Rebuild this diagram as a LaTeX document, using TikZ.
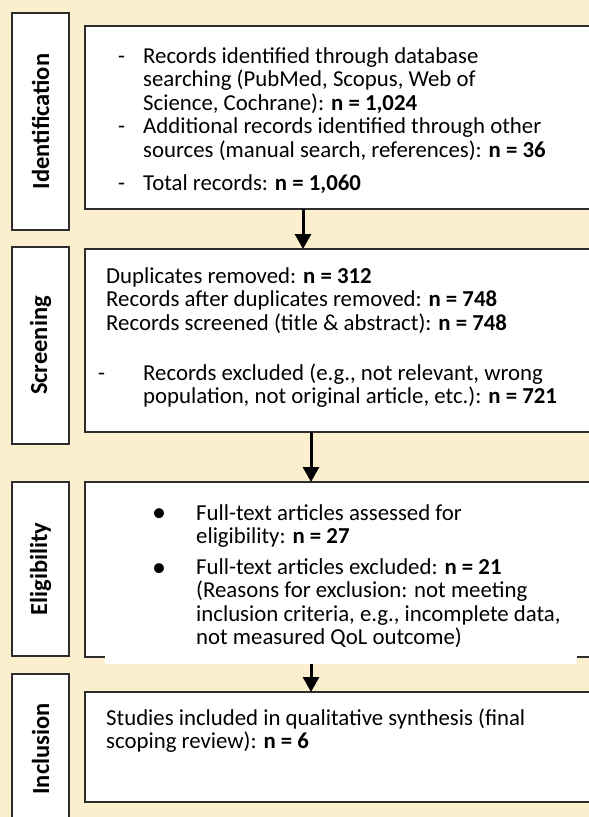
\documentclass[tikz,border=0pt]{standalone}
\usepackage{fontspec}
\setmainfont{Carlito}
\usetikzlibrary{arrows.meta}
\definecolor{bg}{RGB}{252,239,206}
\definecolor{ln}{RGB}{45,45,45}
\begin{document}
\begin{tikzpicture}[x=1pt,y=-1pt,
  frame/.style={draw=ln, line width=1.6pt, fill=white, inner sep=0pt, outer sep=0pt, rectangle, anchor=north west},
  txt/.style={inner sep=0pt, anchor=base west, font=\fontsize{22.8}{23.5}\selectfont, text=black},
  bul/.style={inner sep=0pt, anchor=base, font=\fontsize{28}{28}\selectfont, text=black},
  lab/.style={inner sep=0pt, rotate=90, font=\fontsize{24.5}{26}\selectfont\bfseries, text=black},
  flow/.style={draw=black, line width=3pt, -{Triangle[width=16pt,length=15pt]}}]
\path[use as bounding box, fill=bg] (0,0) rectangle (589,817);
\clip (0,0) rectangle (589,817);
% stage label boxes
\node[frame, minimum width=57pt, minimum height=217pt] (l1) at (12,13) {};
\node[frame, minimum width=57pt, minimum height=197pt] (l2) at (12,247) {};
\node[frame, minimum width=57pt, minimum height=174pt] (l3) at (12,482) {};
\node[frame, minimum width=57pt, minimum height=150pt] (l4) at (12,674) {};
\node[lab] (t1) at (l1.center) {Identification};
\node[lab] (t2) at (l2.center) {Screening};
\node[lab] (t3) at (l3.center) {Eligibility};
\node[lab] (t4) at (l4.center) {Inclusion};
% main boxes
\node[frame, minimum width=520pt, minimum height=183pt] (b1) at (85,26) {};
\node[frame, minimum width=520pt, minimum height=183pt] (b2) at (85,249) {};
\node[frame, minimum width=520pt, minimum height=175pt] (b3) at (85,482) {};
\node[fill=white, inner sep=0pt, outer sep=0pt, anchor=north west, minimum width=472pt, minimum height=16pt] (cov) at (105,648) {};
\node[frame, minimum width=520pt, minimum height=110pt] (b4) at (85,692) {};
% texts
\node[txt] (x1) at (118,63) {\begin{tabular}[t]{@{}p{25pt}@{}l@{}}
- & Records identified through database\\
  & searching (PubMed, Scopus, Web of\\
  & Science, Cochrane): \textbf{n = 1,024}\\
- & Additional records identified through other\\
  & sources (manual search, references): \textbf{n = 36}\\[9pt]
- & Total records: \textbf{n = 1,060}
\end{tabular}};
\node[txt] (x2) at (106,283) {\begin{tabular}[t]{@{}l@{}}
Duplicates removed: \textbf{n = 312}\\
Records after duplicates removed: \textbf{n = 748}\\
Records screened (title \& abstract): \textbf{n = 748}
\end{tabular}};
\node[txt] (x3) at (98,380) {-};
\node[txt] (x4) at (143,380) {\begin{tabular}[t]{@{}l@{}}
Records excluded (e.g., not relevant, wrong\\
population, not original article, etc.): \textbf{n = 721}
\end{tabular}};
\node[bul] (bu1) at (159,521) {•};
\node[bul] (bu2) at (159,576) {•};
\node[txt] (x5) at (196,520) {\begin{tabular}[t]{@{}l@{}}
Full-text articles assessed for\\
eligibility: \textbf{n = 27}\\[7pt]
Full-text articles excluded: \textbf{n = 21}\\
(Reasons for exclusion: not meeting\\
inclusion criteria, e.g., incomplete data,\\
not measured QoL outcome)
\end{tabular}};
\node[txt] (x6) at (106,725) {\begin{tabular}[t]{@{}l@{}}
Studies included in qualitative synthesis (final\\
scoping review): \textbf{n = 6}
\end{tabular}};
% arrows
\coordinate (ax1) at (303,0);
\coordinate (ax2) at (311,0);
\draw[flow] (b1.south -| ax1) -- (b2.north -| ax1);
\draw[flow] (b2.south -| ax2) -- (b3.north -| ax2);
\draw[flow] (cov.south -| ax2) -- (b4.north -| ax2);
\end{tikzpicture}
\end{document}
